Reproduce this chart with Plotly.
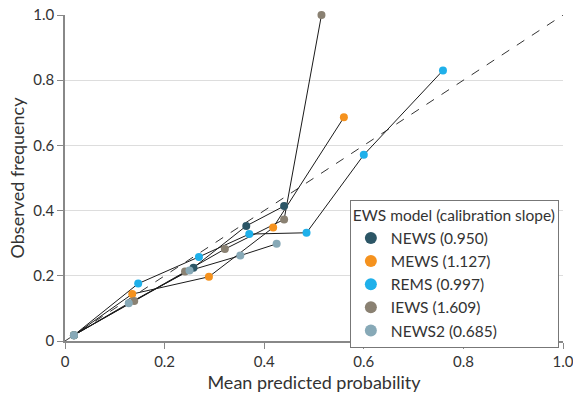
import plotly.graph_objects as go

names = ["NEWS (0.950)", "MEWS (1.127)", "REMS (0.997)", "IEWS (1.609)", "NEWS2 (0.685)"]
colors = ["#2c5666", "#f5921e", "#1fb0ea", "#8a8172", "#87a9b7"]

news_x = [0.018, 0.258, 0.364, 0.440]
news_y = [0.018, 0.225, 0.353, 0.414]
mews_x = [0.018, 0.135, 0.289, 0.418, 0.560]
mews_y = [0.018, 0.144, 0.197, 0.348, 0.686]
rems_x = [0.018, 0.147, 0.269, 0.370, 0.485, 0.600, 0.759]
rems_y = [0.018, 0.176, 0.258, 0.328, 0.332, 0.571, 0.830]
iews_x = [0.018, 0.139, 0.241, 0.321, 0.440, 0.515]
iews_y = [0.018, 0.123, 0.213, 0.282, 0.373, 1.000]
news2_x = [0.018, 0.128, 0.250, 0.352, 0.425]
news2_y = [0.018, 0.116, 0.216, 0.262, 0.298]

series = [(news_x, news_y), (mews_x, mews_y), (rems_x, rems_y), (iews_x, iews_y), (news2_x, news2_y)]

diag = [0, 1]
ticks = [0, 0.2, 0.4, 0.6, 0.8, 1.0]
tick_text = ["0", "0.2", "0.4", "0.6", "0.8", "1.0"]

fig = go.Figure()
fig.add_trace(go.Scatter(x=diag, y=diag, mode="lines", line=dict(color="#333333", width=1, dash="dash"),
                         showlegend=False, hoverinfo="skip", cliponaxis=False))
for (xs, ys) in series:
    fig.add_trace(go.Scatter(x=xs, y=ys, mode="lines", line=dict(color="#1a1a1a", width=1),
                             showlegend=False, hoverinfo="skip", cliponaxis=False))
for name, c, (xs, ys) in zip(names, colors, series):
    fig.add_trace(go.Scatter(x=xs, y=ys, mode="markers", name=name, cliponaxis=False,
                             marker=dict(color=c, size=8, line=dict(width=0))))

fig.update_layout(
    width=573, height=393,
    margin=dict(l=65, r=10, t=15, b=52, autoexpand=False),
    paper_bgcolor="white", plot_bgcolor="white",
    font=dict(family="Lato", size=15, color="#333333"),
    legend=dict(
        title=dict(text="EWS model (calibration slope)", font=dict(size=15.5)),
        x=0.572, y=0.432, xanchor="left", yanchor="top",
        bordercolor="#777777", borderwidth=1, bgcolor="white",
        font=dict(size=15.5), tracegroupgap=0, itemsizing="constant",
    ),
    xaxis=dict(range=[0, 1.0], tickvals=ticks, ticktext=tick_text, automargin=False,
               ticklabeloverflow="allow",
               showgrid=False, zeroline=False, showline=True, linecolor="#888888", linewidth=1.5,
               ticks="outside", ticklen=6, tickcolor="#888888",
               title=dict(text="Mean predicted probability", standoff=8)),
    yaxis=dict(range=[0, 1.0], tickvals=ticks, ticktext=tick_text, automargin=False,
               ticklabeloverflow="allow",
               showgrid=True, gridcolor="#dddddd", zeroline=False, showline=True, linecolor="#888888", linewidth=1.5,
               ticks="outside", ticklen=6, tickcolor="#888888",
               title=dict(text="Observed frequency", standoff=4)),
)
fig.write_html("out.html", config={"displayModeBar": False},
               post_script="document.body.style.margin='0';")
